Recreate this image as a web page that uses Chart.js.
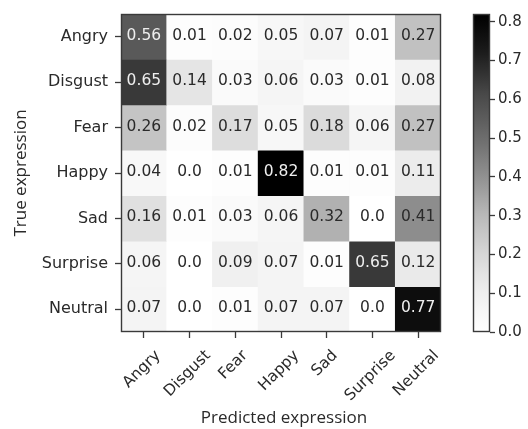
<!DOCTYPE html>
<html><head><meta charset="utf-8">
<script src="https://cdn.jsdelivr.net/npm/chart.js@4/dist/chart.umd.min.js"></script>
<style>
html,body{margin:0;padding:0;background:#fff;}
#wrap{position:relative;width:528px;height:429px;overflow:hidden;}
#main{position:absolute;left:0;top:0;}
#cbar{position:absolute;left:440px;top:0;}
</style></head><body>
<div id="wrap">
<canvas id="main" width="528" height="429"></canvas>
<canvas id="cbar" width="88" height="429"></canvas>
</div>
<script>
// ---- data ----
const trueLabels = ['Angry','Disgust','Fear','Happy','Sad','Surprise','Neutral'];
const predLabels = ['Angry','Disgust','Fear','Happy','Sad','Surprise','Neutral'];
const rowAngry    = [0.56,0.01,0.02,0.05,0.07,0.01,0.27];
const rowDisgust  = [0.65,0.14,0.03,0.06,0.03,0.01,0.08];
const rowFear     = [0.26,0.02,0.17,0.05,0.18,0.06,0.27];
const rowHappy    = [0.04,0.0,0.01,0.82,0.01,0.01,0.11];
const rowSad      = [0.16,0.01,0.03,0.06,0.32,0.0,0.41];
const rowSurprise = [0.06,0.0,0.09,0.07,0.01,0.65,0.12];
const rowNeutral  = [0.07,0.0,0.01,0.07,0.07,0.0,0.77];
const colorbarTicks = [0.0,0.1,0.2,0.3,0.4,0.5,0.6,0.7,0.8];
const xTitle = 'Predicted expression';
const yTitle = 'True expression';

const matrix = [rowAngry,rowDisgust,rowFear,rowHappy,rowSad,rowSurprise,rowNeutral];
const vmax = Math.max(...matrix.flat());
const vmin = 0;

// matplotlib "Greys" colormap (slightly darker tone curve to match the picture)
const greysStops = [255,240,217,189,150,115,82,37,0];
function toneGrey(g){ return Math.round(255*Math.pow(g/255, 1.12)); }
function rgb(g){ g = toneGrey(g); return 'rgb('+g+','+g+','+g+')'; }
function grey(t){
  t = Math.max(0, Math.min(1, t));
  const p = t*8, i = Math.min(7, Math.floor(p)), f = p - i;
  return rgb(greysStops[i] + (greysStops[i+1]-greysStops[i])*f);
}
function fmt(v){ return Number.isInteger(v) ? v.toFixed(1) : String(v); }

const FONT = "'DejaVu Sans', sans-serif";
const TFONT = "'Open Sans', 'DejaVu Sans', sans-serif";
const TXT = '#2a2a2a';
const AX = '#3a3a3a';

const framePlugin = {
  id:'frame',
  afterDraw(chart){
    const a = chart.chartArea, c = chart.ctx;
    c.save(); c.strokeStyle = AX; c.lineWidth = 1.4;
    c.strokeRect(Math.round(a.left)+0.5, Math.round(a.top)+0.5, Math.round(a.right-a.left)-1, Math.round(a.bottom-a.top)-1);
    c.restore();
  }
};

const cellText = {
  id:'cellText',
  afterDatasetsDraw(chart){
    const c = chart.ctx;
    c.save();
    c.font = "15.5px " + FONT;
    c.textAlign = 'center'; c.textBaseline = 'middle';
    chart.data.datasets.forEach((ds, r) => {
      const meta = chart.getDatasetMeta(r);
      meta.data.forEach((el, k) => {
        const v = ds.values[k];
        c.fillStyle = v > (vmax+vmin)/2 ? '#eeeeee' : TXT;
        c.fillText(fmt(v), el.x, (el.y + el.base)/2 - 1);
      });
    });
    c.restore();
  }
};

const axisText = {
  id:'axisText',
  afterDraw(chart){
    const c = chart.ctx, xs = chart.scales.x, a = chart.chartArea;
    const fs = 15.5;
    c.save();
    c.font = fs + "px " + FONT; c.fillStyle = TXT;
    c.textAlign = 'center'; c.textBaseline = 'middle';
    predLabels.forEach((lab, i) => {
      const w = c.measureText(lab).width;
      const bh = (w + 0.75*fs) * Math.SQRT1_2;
      const x = xs.getPixelForValue(i) - 2;
      const y = a.bottom + 17 + bh/2;
      c.save(); c.translate(x, y); c.rotate(-Math.PI/4);
      c.fillText(lab, 0, 0);
      c.restore();
    });
    c.font = "17px " + TFONT;
    c.textBaseline = 'alphabetic';
    c.fillText(xTitle, (a.left + a.right)/2 + 3, 422.5);
    c.save();
    c.translate(25.5, (a.top + a.bottom)/2);
    c.rotate(-Math.PI/2);
    c.fillText(yTitle, 0, 0);
    c.restore();
    c.restore();
  }
};

new Chart(document.getElementById('main'), {
  type:'bar',
  data:{
    labels: predLabels,
    datasets: matrix.map((row, r) => ({
      label: trueLabels[r],
      data: row.map(() => 1),
      values: row,
      backgroundColor: row.map(v => grey((v - vmin)/(vmax - vmin))),
      borderWidth: 0, barPercentage: 1, categoryPercentage: 1, stack: 'm'
    }))
  },
  options:{
    responsive:false, animation:false,
    layout:{padding:{left:0, top:14, right:87, bottom:0}},
    plugins:{legend:{display:false}, tooltip:{enabled:false}},
    scales:{
      x:{
        type:'category', stacked:true, offset:true,
        grid:{offset:false, drawOnChartArea:false, drawTicks:true, tickLength:6, tickColor:AX, tickWidth:1.3},
        border:{display:false}, ticks:{display:false}, title:{display:false},
        afterFit(s){ s.height = 97; s.paddingLeft = 0; s.paddingRight = 0; }
      },
      y:{
        type:'linear', stacked:true, min:0, max:trueLabels.length, reverse:true,
        afterBuildTicks(s){ s.ticks = trueLabels.map((_, i) => ({value: i + 0.5})); },
        ticks:{callback:(v) => trueLabels[Math.floor(v)], color:TXT, font:{family:FONT, size:16}, padding:7, autoSkip:false},
        grid:{drawOnChartArea:false, drawTicks:true, tickLength:6, tickColor:AX, tickWidth:1.3},
        border:{display:false},
        title:{display:false},
        afterFit(s){ s.width = 121; s.paddingTop = 0; s.paddingBottom = 0; }
      }
    }
  },
  plugins:[cellText, axisText, framePlugin]
});

new Chart(document.getElementById('cbar'), {
  type:'bar',
  data:{
    labels:[''],
    datasets:[{
      data:[vmax],
      backgroundColor(ctx){
        const chart = ctx.chart;
        if (!chart.chartArea) return '#888';
        const y = chart.scales.y;
        const g = chart.ctx.createLinearGradient(0, y.getPixelForValue(vmin), 0, y.getPixelForValue(vmax));
        for (let k = 0; k <= 32; k++) g.addColorStop(k/32, grey(k/32));
        return g;
      },
      borderWidth:0, barPercentage:1, categoryPercentage:1
    }]
  },
  options:{
    responsive:false, animation:false,
    layout:{padding:{left:33, top:14, right:0, bottom:97}},
    plugins:{legend:{display:false}, tooltip:{enabled:false}},
    scales:{
      x:{display:false, offset:true},
      y:{
        position:'right', min:vmin, max:vmax,
        afterBuildTicks(s){ s.ticks = colorbarTicks.map(v => ({value:v})); },
        ticks:{callback:(v) => v.toFixed(1), color:TXT, font:{family:FONT, size:15}, padding:3, autoSkip:false},
        grid:{drawOnChartArea:false, drawTicks:true, tickLength:5, tickColor:AX, tickWidth:1.3},
        border:{display:false},
        afterFit(s){ s.width = 38; s.paddingTop = 0; s.paddingBottom = 0; }
      }
    }
  },
  plugins:[framePlugin]
});
</script>
</body></html>
